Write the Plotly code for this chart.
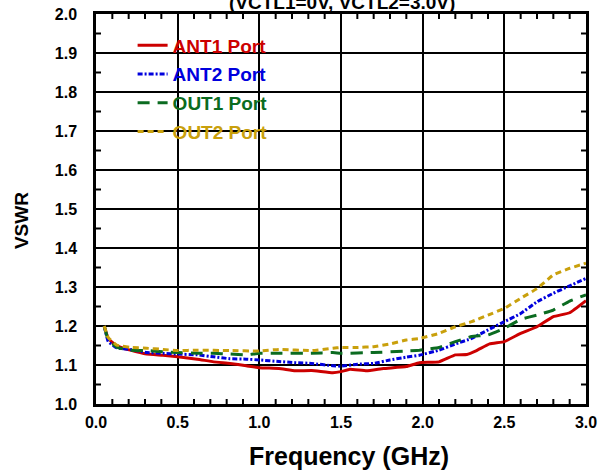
import plotly.graph_objects as go

freq_ant1 = [0.05, 0.075, 0.127, 0.21, 0.31, 0.41, 0.5, 0.62, 0.72, 0.82, 0.92, 1.0, 1.12, 1.22, 1.32, 1.45, 1.50, 1.555, 1.657, 1.76, 1.90, 1.98, 2.10, 2.20, 2.27, 2.33, 2.41, 2.50, 2.60, 2.70, 2.80, 2.90, 3.0]
vswr_ant1 = [1.20, 1.168, 1.149, 1.138, 1.128, 1.125, 1.121, 1.115, 1.108, 1.104, 1.098, 1.093, 1.091, 1.085, 1.086, 1.080, 1.083, 1.089, 1.085, 1.091, 1.096, 1.106, 1.108, 1.126, 1.127, 1.137, 1.154, 1.160, 1.181, 1.198, 1.224, 1.234, 1.265]

freq_ant2 = [0.05, 0.075, 0.127, 0.21, 0.31, 0.41, 0.5, 0.62, 0.72, 0.82, 0.92, 1.0, 1.12, 1.22, 1.32, 1.45, 1.50, 1.60, 1.70, 1.80, 1.90, 1.98, 2.10, 2.20, 2.30, 2.40, 2.50, 2.60, 2.70, 2.80, 2.90, 3.0]
vswr_ant2 = [1.20, 1.16, 1.144, 1.140, 1.132, 1.130, 1.128, 1.126, 1.121, 1.116, 1.115, 1.113, 1.109, 1.106, 1.104, 1.098, 1.097, 1.102, 1.104, 1.113, 1.120, 1.125, 1.138, 1.154, 1.168, 1.190, 1.211, 1.232, 1.262, 1.284, 1.303, 1.322]

freq_out1 = [0.05, 0.075, 0.127, 0.21, 0.31, 0.41, 0.5, 0.62, 0.72, 0.82, 0.92, 1.0, 1.12, 1.32, 1.45, 1.50, 1.70, 1.90, 1.98, 2.10, 2.20, 2.30, 2.40, 2.50, 2.60, 2.70, 2.80, 2.90, 3.0]
vswr_out1 = [1.20, 1.165, 1.146, 1.138, 1.137, 1.134, 1.132, 1.130, 1.130, 1.128, 1.126, 1.130, 1.130, 1.130, 1.132, 1.130, 1.132, 1.136, 1.138, 1.145, 1.160, 1.173, 1.177, 1.194, 1.217, 1.228, 1.241, 1.264, 1.280]

freq_out2 = [0.05, 0.075, 0.127, 0.21, 0.31, 0.41, 0.5, 0.62, 0.82, 1.0, 1.12, 1.32, 1.45, 1.50, 1.60, 1.70, 1.80, 1.90, 1.98, 2.10, 2.20, 2.30, 2.40, 2.50, 2.60, 2.70, 2.80, 2.90, 3.0]
vswr_out2 = [1.20, 1.17, 1.151, 1.145, 1.143, 1.140, 1.137, 1.138, 1.137, 1.136, 1.140, 1.137, 1.143, 1.145, 1.145, 1.147, 1.154, 1.164, 1.168, 1.181, 1.198, 1.211, 1.228, 1.245, 1.271, 1.296, 1.331, 1.348, 1.361]

x_range = [0.0, 3.0]
y_range = [1.0, 2.0]
x_ticks = [0.0, 0.5, 1.0, 1.5, 2.0, 2.5, 3.0]
x_ticklabels = ["0.0", "0.5", "1.0", "1.5", "2.0", "2.5", "3.0"]
x_minor_ticks = [0.1, 0.2, 0.3, 0.4, 0.6, 0.7, 0.8, 0.9, 1.1, 1.2, 1.3, 1.4, 1.6, 1.7, 1.8, 1.9,
                 2.1, 2.2, 2.3, 2.4, 2.6, 2.7, 2.8, 2.9]
y_ticks = [1.0, 1.1, 1.2, 1.3, 1.4, 1.5, 1.6, 1.7, 1.8, 1.9, 2.0]
y_ticklabels = ["1.0", "1.1", "1.2", "1.3", "1.4", "1.5", "1.6", "1.7", "1.8", "1.9", "2.0"]
y_minor_ticks = [1.05, 1.15, 1.25, 1.35, 1.45, 1.55, 1.65, 1.75, 1.85, 1.95]

title_text = "(VCTL1=0V, VCTL2=3.0V)"
x_title = "Frequency (GHz)"
y_title = "VSWR"

series = [
    ("ANT1 Port", freq_ant1, vswr_ant1, "#cc0000", "solid", 3),
    ("ANT2 Port", freq_ant2, vswr_ant2, "#0000dd", "5px,2px,2px,2px", 3),
    ("OUT1 Port", freq_out1, vswr_out1, "#0b6b20", "12px,8px", 3),
    ("OUT2 Port", freq_out2, vswr_out2, "#c9a00c", "6px,4px", 3),
]

# plot-area size in pixels (width 611 - 96 - 25, height 470 - 14 - 66)
PLOT_W, PLOT_H = 490, 390
MINOR_LEN_PX = 5
dy_tick = MINOR_LEN_PX / PLOT_H * (y_range[1] - y_range[0])
dx_tick = MINOR_LEN_PX / PLOT_W * (x_range[1] - x_range[0])

fig = go.Figure()

# minor tick marks, inward on all four sides
tx, ty = [], []
for t in x_minor_ticks:
    tx += [t, t, None, t, t, None]
    ty += [y_range[0], y_range[0] + dy_tick, None, y_range[1], y_range[1] - dy_tick, None]
for t in y_minor_ticks:
    tx += [x_range[0], x_range[0] + dx_tick, None, x_range[1], x_range[1] - dx_tick, None]
    ty += [t, t, None, t, t, None]
fig.add_trace(go.Scatter(x=tx, y=ty, mode="lines", line=dict(color="black", width=2),
                         showlegend=False, cliponaxis=False, connectgaps=False))

for i, (name, xs, ys, color, dash, w) in enumerate(series):
    fig.add_trace(go.Scatter(
        x=xs, y=ys, mode="lines", line=dict(color=color, dash=dash, width=w, shape="spline", smoothing=0.3),
        name='<span style="color:%s">%s</span>' % (color, name), legendgroup="g%d" % i,
    ))

font_family = "Liberation Sans, Arial, sans-serif"
narrow_family = "Liberation Sans Narrow, Arial Narrow, Liberation Sans, sans-serif"
axis_common = dict(
    showline=True, linecolor="black", linewidth=2.5, mirror=True,
    ticks="", showgrid=True, gridcolor="black", gridwidth=2,
    zeroline=False, automargin=False,
    tickfont=dict(family=font_family, size=16, color="black", weight="bold"),
)

fig.update_layout(
    xaxis=dict(range=x_range, tickvals=x_ticks, ticktext=x_ticklabels, ticklabelstandoff=2, **axis_common),
    yaxis=dict(range=y_range, tickvals=y_ticks, ticktext=y_ticklabels, ticklabelstandoff=13, **axis_common),
)

# legend background panel (covers grid, sits below the traces)
fig.add_shape(type="rect", xref="paper", yref="paper", x0=0.0327, x1=0.3714, y0=0.6487, y1=0.9641,
              fillcolor="white", line=dict(width=0), layer="between")

fig.add_annotation(
    text="<b>%s</b>" % title_text, xref="paper", yref="paper", x=0.502, y=1.0, yshift=-1,
    xanchor="center", yanchor="bottom", showarrow=False,
    font=dict(family=font_family, size=19, color="black"),
)
fig.add_annotation(
    text="<b>%s</b>" % x_title, xref="paper", yref="paper", x=0.516, y=-0.133,
    xanchor="center", yanchor="middle", showarrow=False,
    font=dict(family=font_family, size=25, color="black"),
)
fig.add_annotation(
    text="<b>%s</b>" % y_title, xref="paper", yref="paper", x=-0.153, y=0.469, textangle=-90,
    xanchor="center", yanchor="middle", showarrow=False,
    font=dict(family=narrow_family, size=19, color="black"),
)

fig.update_layout(
    width=611, height=470,
    margin=dict(l=96, r=25, t=14, b=66),
    plot_bgcolor="white", paper_bgcolor="white",
    hovermode=False,
    showlegend=True,
    legend=dict(
        x=0.0747, y=0.968, xanchor="left", yanchor="top",
        bgcolor="rgba(0,0,0,0)", borderwidth=0, tracegroupgap=1,
        font=dict(family=font_family, size=19, weight="bold"),
    ),
)

fig.write_html("out.html", config={"displayModeBar": False},
               post_script="document.body.style.margin='0';")
